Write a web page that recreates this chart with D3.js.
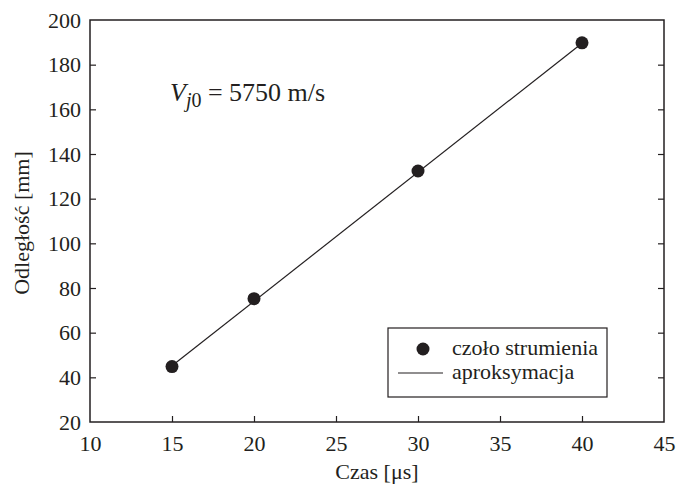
<!DOCTYPE html>
<html>
<head>
<meta charset="utf-8">
<script src="https://cdn.jsdelivr.net/npm/d3@7"></script>
<style>
  body { margin: 0; background: #fff; }
  svg { display: block; }
  text { font-family: "Liberation Serif", "DejaVu Serif", serif; fill: #231f20; }
</style>
</head>
<body>
<svg id="chart"></svg>
<script>
// measured points (czoło strumienia)
const timeUs = [15, 20, 30, 40];
const distMm = [44.8, 75.2, 132.4, 189.8];

// linear fit (aproksymacja) endpoints
const fitTime = [15, 40];
const fitDist = [45.2, 189.6];

const xTicks = [10, 15, 20, 25, 30, 35, 40, 45];
const yTicks = [20, 40, 60, 80, 100, 120, 140, 160, 180, 200];

const legendLabels = ['czoło strumienia', 'aproksymacja'];

const width = 678;
const height = 486;
const margin = { top: 20, right: 14, bottom: 64, left: 90 };
const innerWidth = width - margin.left - margin.right;
const innerHeight = height - margin.top - margin.bottom;
const ink = '#231f20';
const fontSize = '22px';

const svg = d3.select('#chart')
  .attr('width', width)
  .attr('height', height);

const x = d3.scaleLinear().domain([10, 45]).range([0, innerWidth]);
const y = d3.scaleLinear().domain([20, 200]).range([innerHeight, 0]);

const g = svg.append('g')
  .attr('transform', `translate(${margin.left},${margin.top})`);

// axes, ticks point inward
const xAxis = g.append('g')
  .attr('transform', `translate(0,${innerHeight})`)
  .call(d3.axisBottom(x).tickValues(xTicks).tickSize(-6).tickPadding(13));

const yAxis = g.append('g')
  .call(d3.axisLeft(y).tickValues(yTicks).tickSize(-6).tickPadding(9));

const yAxisRight = g.append('g')
  .attr('transform', `translate(${innerWidth},0)`)
  .call(d3.axisRight(y).tickValues(yTicks).tickSize(-6).tickFormat(''));

[xAxis, yAxis, yAxisRight].forEach(a => {
  a.attr('font-family', null).attr('font-size', null);
  a.select('.domain').remove();
  a.selectAll('line').attr('stroke', ink).attr('stroke-width', 1.2);
  a.selectAll('text')
    .style('font-size', fontSize)
    .attr('fill', ink);
});
// hide ticks at the box corners
xAxis.selectAll('.tick').filter(d => d === 10 || d === 45).select('line').remove();
yAxis.selectAll('.tick').filter(d => d === 20 || d === 200).select('line').remove();
yAxisRight.selectAll('.tick').filter(d => d === 20 || d === 200).select('line').remove();

// frame
g.append('rect')
  .attr('width', innerWidth)
  .attr('height', innerHeight)
  .attr('fill', 'none')
  .attr('stroke', ink)
  .attr('stroke-width', 1.5);

// fit line
const line = d3.line()
  .x(d => x(d[0]))
  .y(d => y(d[1]));

g.append('path')
  .datum(fitTime.map((t, i) => [t, fitDist[i]]))
  .attr('d', line)
  .attr('fill', 'none')
  .attr('stroke', ink)
  .attr('stroke-width', 1.2);

// points
g.selectAll('.pt')
  .data(timeUs.map((t, i) => [t, distMm[i]]))
  .enter().append('circle')
    .attr('class', 'pt')
    .attr('cx', d => x(d[0]))
    .attr('cy', d => y(d[1]))
    .attr('r', 6.5)
    .attr('fill', ink);

// annotation
const note = svg.append('text')
  .attr('x', 170)
  .attr('y', 101)
  .style('font-size', '26px');
note.append('tspan').style('font-style', 'italic').text('V');
note.append('tspan').style('font-style', 'italic').style('font-size', '20px').attr('dy', 6).text('j');
note.append('tspan').style('font-size', '20px').text('0');
note.append('tspan').attr('dy', -6).text(' = 5750 m/s');

// axis titles
svg.append('text')
  .attr('x', margin.left + innerWidth / 2)
  .attr('y', 479)
  .attr('text-anchor', 'middle')
  .style('font-size', fontSize)
  .text('Czas [μs]');

svg.append('text')
  .attr('transform', `translate(29,${margin.top + innerHeight / 2 + 2}) rotate(-90)`)
  .attr('text-anchor', 'middle')
  .style('font-size', fontSize)
  .text('Odległość [mm]');

// legend
const lg = svg.append('g').attr('transform', 'translate(388,328)');
lg.append('rect')
  .attr('width', 219)
  .attr('height', 69)
  .attr('fill', '#fff')
  .attr('stroke', ink)
  .attr('stroke-width', 1.2);
lg.append('circle')
  .attr('cx', 35).attr('cy', 21).attr('r', 6.5).attr('fill', ink);
lg.append('line')
  .attr('x1', 10).attr('x2', 55).attr('y1', 45).attr('y2', 45)
  .attr('stroke', ink).attr('stroke-width', 1.2);
lg.selectAll('.lt')
  .data(legendLabels)
  .enter().append('text')
    .attr('class', 'lt')
    .attr('x', 64)
    .attr('y', (d, i) => 27 + i * 24)
    .style('font-size', fontSize)
    .text(d => d);
</script>
</body>
</html>
